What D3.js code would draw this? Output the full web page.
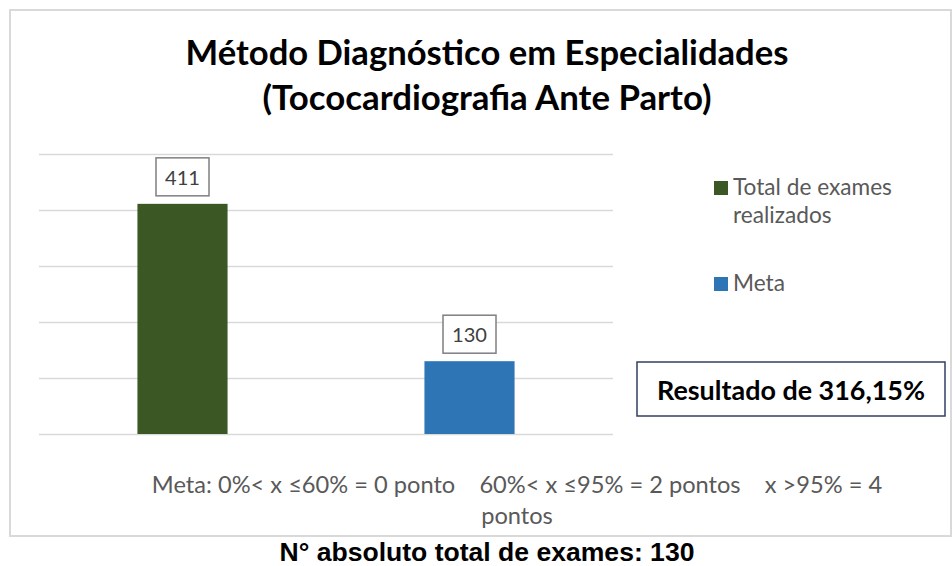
<!DOCTYPE html>
<html><head><meta charset="utf-8">
<script src="https://cdn.jsdelivr.net/npm/d3@7"></script>
<style>body{margin:0;background:#fff}svg{display:block}text{white-space:pre}</style>
</head><body>
<svg id="c" width="952" height="566"></svg>
<script>
const categories = ["Total de exames realizados", "Meta"];
const values = [411, 130];
const colors = ["#3A5724", "#2E75B6"];
const yTicks = [0, 100, 200, 300, 400, 500];
const titleLines = ["Método Diagnóstico em Especialidades", "(Tococardiografia Ante Parto)"];
const legendLines = [["Total de exames", "realizados"], ["Meta"]];
const footLines = ["Meta: 0%< x ≤60% = 0 ponto    60%< x ≤95% = 2 pontos    x >95% = 4", "pontos"];
const resultText = "Resultado de 316,15%";
const totalText = "N° absoluto total de exames: 130";

const svg = d3.select("#c");
const FONT = "Lato, 'Open Sans', sans-serif";

function fit(sel, w) {
  const cur = sel.node().getComputedTextLength();
  const fs = parseFloat(sel.attr("font-size"));
  sel.attr("font-size", fs * w / cur);
  return fs * w / cur;
}

// outer border
svg.append("rect").attr("x", 10).attr("y", 10).attr("width", 941).attr("height", 526)
  .attr("fill", "#fff").attr("stroke", "#d9d9d9").attr("stroke-width", 2);

const x = d3.scaleBand().domain(categories).range([39, 613]).padding(0);
const y = d3.scaleLinear().domain([0, 500]).range([434, 154]);

// gridlines
const g = svg.append("g").attr("transform", "translate(39,0)")
  .call(d3.axisLeft(y).tickValues(yTicks).tickSize(-574).tickFormat(""));
g.select(".domain").remove();
g.selectAll(".tick line").attr("stroke", "#d9d9d9").attr("stroke-width", 1.3);

// title
titleLines.forEach((t, i) => {
  const s = svg.append("text").attr("x", 487).attr("y", [65, 110][i])
    .attr("text-anchor", "middle").attr("font-family", FONT).attr("font-weight", "bold")
    .attr("font-size", 32).attr("fill", "#000").text(t);
  fit(s, [603, 449][i]);
});

// bars
const bw = x.bandwidth() * 0.314;
svg.selectAll(".bar").data(values).join("rect").attr("class", "bar")
  .attr("x", (d, i) => x(categories[i]) + x.bandwidth() / 2 - bw / 2)
  .attr("width", bw)
  .attr("y", d => y(d)).attr("height", d => y(0) - y(d))
  .attr("fill", (d, i) => colors[i]);

// data labels with boxes
values.forEach((v, i) => {
  const cx = x(categories[i]) + x.bandwidth() / 2;
  const top = y(v);
  svg.append("rect").attr("x", cx - 26.5).attr("y", top - 46).attr("width", 53).attr("height", 38)
    .attr("fill", "#fff").attr("stroke", "#7f7f7f").attr("stroke-width", 1.5);
  const s = svg.append("text").attr("x", cx).attr("y", top - 19).attr("text-anchor", "middle")
    .attr("font-family", FONT).attr("font-size", 20).attr("fill", "#404040").text(v);
  fit(s, 35);
});

// legend
let lfs = 20;
legendLines.forEach((lines, i) => {
  const y0 = [195, 291][i];
  svg.append("rect").attr("x", 714).attr("y", y0 - 14).attr("width", 14).attr("height", 14).attr("fill", colors[i]);
  lines.forEach((t, j) => {
    const s = svg.append("text").attr("x", 733).attr("y", y0 + j * 28)
      .attr("font-family", FONT).attr("font-size", lfs).attr("fill", "#595959").text(t);
    if (i === 0 && j === 0) lfs = fit(s, 159);
  });
});

// result box
svg.append("rect").attr("x", 637).attr("y", 362).attr("width", 308).attr("height", 54)
  .attr("fill", "#fff").attr("stroke", "#2F4060").attr("stroke-width", 1.5);
const rs = svg.append("text").attr("x", 791).attr("y", 400).attr("text-anchor", "middle")
  .attr("font-family", FONT).attr("font-weight", "bold").attr("font-size", 22).attr("fill", "#000").text(resultText);
fit(rs, 268);

// footnote
let ffs = 20;
footLines.forEach((t, i) => {
  const s = svg.append("text").attr("x", 517).attr("y", [493, 524][i]).attr("text-anchor", "middle")
    .attr("font-family", FONT).attr("font-size", ffs).attr("fill", "#595959").text(t);
  if (i === 0) ffs = fit(s, 731);
});

// total
const ts = svg.append("text").attr("x", 487).attr("y", 561).attr("text-anchor", "middle")
  .attr("font-family", "'Liberation Sans', Arial, sans-serif").attr("font-weight", "bold")
  .attr("font-size", 20).attr("fill", "#000").text(totalText);
fit(ts, 415);
</script>
</body></html>
